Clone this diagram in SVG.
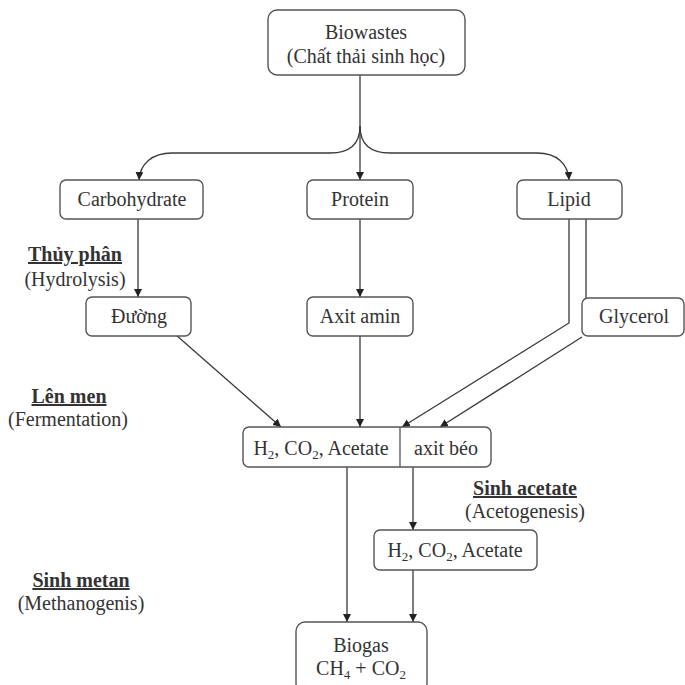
<svg xmlns="http://www.w3.org/2000/svg" width="685" height="685" viewBox="0 0 685 685">
  <style>
    .box { fill: #ffffff; stroke: #555555; stroke-width: 1.4; }
    .t { font-family: "Liberation Serif", "Times New Roman", serif; font-size: 20px; fill: #333333; text-anchor: middle; }
    .b { font-weight: bold; text-decoration: underline; }
    .sub { font-size: 13px; }
    .edge { fill: none; stroke: #3a3a3a; stroke-width: 1.3; }
  </style>
  <defs>
    <marker id="arrow" viewBox="0 0 10 10" refX="10" refY="5" markerWidth="8" markerHeight="8" markerUnits="userSpaceOnUse" orient="auto">
      <path d="M0,0 L10,5 L0,10 Z" fill="#222222"/>
    </marker>
  </defs>
  <rect width="685" height="685" fill="#ffffff"/>

  <!-- connectors -->
  <g id="connectors">
    <line class="edge" x1="360" y1="75" x2="360" y2="180" marker-end="url(#arrow)"/>
    <path class="edge" d="M360,126 C360,144 350,153 330,153 H172 C152,153 140,164 139,180" marker-end="url(#arrow)"/>
    <path class="edge" d="M360,126 C360,144 370,153 390,153 H537 C557,153 568,164 569,180" marker-end="url(#arrow)"/>
    <line class="edge" x1="138" y1="219" x2="138" y2="297" marker-end="url(#arrow)"/>
    <line class="edge" x1="360" y1="219" x2="360" y2="297" marker-end="url(#arrow)"/>
    <polyline class="edge" points="569,219 569,323 402,427" marker-end="url(#arrow)"/>
    <line class="edge" x1="586" y1="219" x2="586" y2="298"/>
    <line class="edge" x1="582" y1="337" x2="440" y2="427" marker-end="url(#arrow)"/>
    <line class="edge" x1="176" y1="335" x2="281" y2="427" marker-end="url(#arrow)"/>
    <line class="edge" x1="360" y1="336" x2="360" y2="427" marker-end="url(#arrow)"/>
    <line class="edge" x1="347" y1="467" x2="347" y2="622" marker-end="url(#arrow)"/>
    <line class="edge" x1="413" y1="467" x2="413" y2="530" marker-end="url(#arrow)"/>
    <line class="edge" x1="413" y1="570" x2="413" y2="622" marker-end="url(#arrow)"/>
  </g>

  <!-- nodes -->
  <g id="biowastes">
    <rect class="box" x="268" y="10" width="197" height="65" rx="9"/>
    <text class="t" x="366" y="39">Biowastes</text>
    <text class="t" x="366" y="63">(Chất thải sinh học)</text>
  </g>
  <g id="carbohydrate">
    <rect class="box" x="60" y="180" width="143" height="39" rx="6"/>
    <text class="t" x="132" y="206">Carbohydrate</text>
  </g>
  <g id="protein">
    <rect class="box" x="307" y="180" width="106" height="39" rx="6"/>
    <text class="t" x="360" y="206">Protein</text>
  </g>
  <g id="lipid">
    <rect class="box" x="517" y="180" width="105" height="39" rx="6"/>
    <text class="t" x="569" y="206">Lipid</text>
  </g>
  <g id="duong">
    <rect class="box" x="86" y="297" width="105" height="39" rx="6"/>
    <text class="t" x="139" y="323">Đường</text>
  </g>
  <g id="axit-amin">
    <rect class="box" x="307" y="297" width="106" height="39" rx="6"/>
    <text class="t" x="360" y="323">Axit amin</text>
  </g>
  <g id="glycerol">
    <rect class="box" x="582" y="298" width="102" height="38" rx="6"/>
    <text class="t" x="634" y="323">Glycerol</text>
  </g>
  <g id="fermentation-products">
    <rect class="box" x="243" y="427" width="248" height="40" rx="6"/>
    <line x1="400" y1="427" x2="400" y2="467" stroke="#555555" stroke-width="1.3"/>
    <text class="t" x="321" y="455">H<tspan class="sub" dy="4">2</tspan><tspan dy="-4">, CO</tspan><tspan class="sub" dy="4">2</tspan><tspan dy="-4">, Acetate</tspan></text>
    <text class="t" x="446" y="455">axit béo</text>
  </g>
  <g id="acetogenesis-products">
    <rect class="box" x="374" y="530" width="163" height="40" rx="6"/>
    <text class="t" x="455" y="557">H<tspan class="sub" dy="4">2</tspan><tspan dy="-4">, CO</tspan><tspan class="sub" dy="4">2</tspan><tspan dy="-4">, Acetate</tspan></text>
  </g>
  <g id="biogas">
    <rect class="box" x="296" y="622" width="131" height="70" rx="9"/>
    <text class="t" x="361" y="652">Biogas</text>
    <text class="t" x="361" y="675">CH<tspan class="sub" dy="4">4</tspan><tspan dy="-4"> + CO</tspan><tspan class="sub" dy="4">2</tspan></text>
  </g>

  <!-- stage labels -->
  <g id="labels">
    <text class="t b" x="75" y="261">Thủy phân</text>
    <text class="t" x="75" y="286">(Hydrolysis)</text>
    <text class="t b" x="69" y="403">Lên men</text>
    <text class="t" x="68" y="426">(Fermentation)</text>
    <text class="t b" x="525" y="495">Sinh acetate</text>
    <text class="t" x="525" y="518">(Acetogenesis)</text>
    <text class="t b" x="81" y="587">Sinh metan</text>
    <text class="t" x="81" y="610">(Methanogenis)</text>
  </g>
</svg>
